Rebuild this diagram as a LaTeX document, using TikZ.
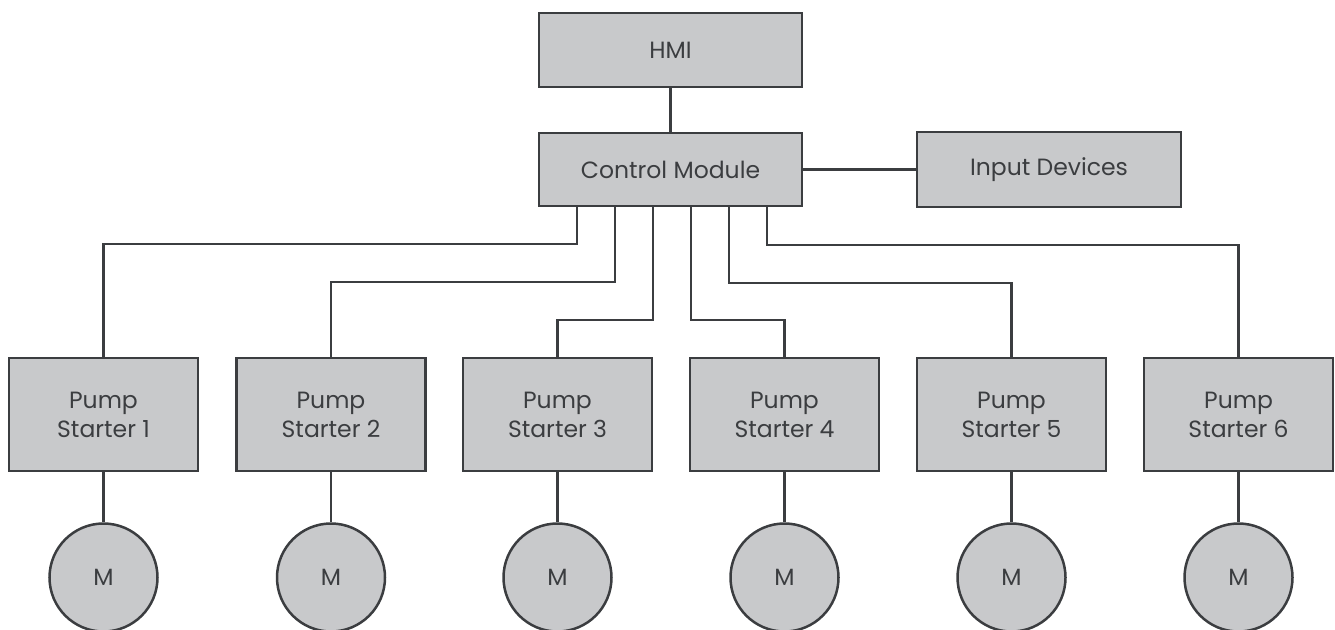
\documentclass[tikz,border=0pt]{standalone}
\usepackage{fontspec}
\setmainfont{Poppins}
\definecolor{edge}{HTML}{3B3D40}
\definecolor{boxfill}{HTML}{C8C9CB}
\begin{document}
\begin{tikzpicture}[x=1pt,y=-1pt,
  box/.style={draw=edge,fill=boxfill,line width=2.5pt,rectangle,inner sep=0pt,
    text=edge,font=\fontsize{23.5}{29}\selectfont,align=center},
  motor/.style={draw=edge,fill=boxfill,line width=2.5pt,circle,inner sep=0pt,
    minimum size=108pt,text=edge,font=\fontsize{23.5}{29}\selectfont},
  link/.style={draw=edge,line width=2.5pt}]
\useasboundingbox (0,0) rectangle (1335,629);
\node[box,minimum width=263pt,minimum height=74pt] (hmi) at (670.5,50) {HMI};
\node[box,minimum width=263pt,minimum height=73pt] (cm) at (670.5,169.5) {Control Module};
\node[box,minimum width=264pt,minimum height=75pt] (inp) at (1049,169.5) {Input Devices};
\foreach \i/\x in {1/103.5,2/331,3/557.5,4/784.5,5/1011.5,6/1238.5}{
  \node[box,minimum width=189pt,minimum height=113pt] (p\i) at (\x,414.5) {Pump\\Starter \i};
  \node[motor] (m\i) at (\x,577.5) {M};
  \draw[link] (p\i.south) -- (m\i.north);
}
\draw[link] (hmi.south) -- (hmi.south |- cm.north);
\draw[link] (cm.east) -- (inp.west);
\foreach \i/\sx/\hy in {1/577/244,2/615/282,3/653/320,4/691/320,5/729/283,6/767/245}{
  \coordinate (s\i) at (\sx,\hy);
  \draw[link] (s\i |- cm.south) -- (s\i) -| (p\i.north);
}
\end{tikzpicture}
\end{document}
